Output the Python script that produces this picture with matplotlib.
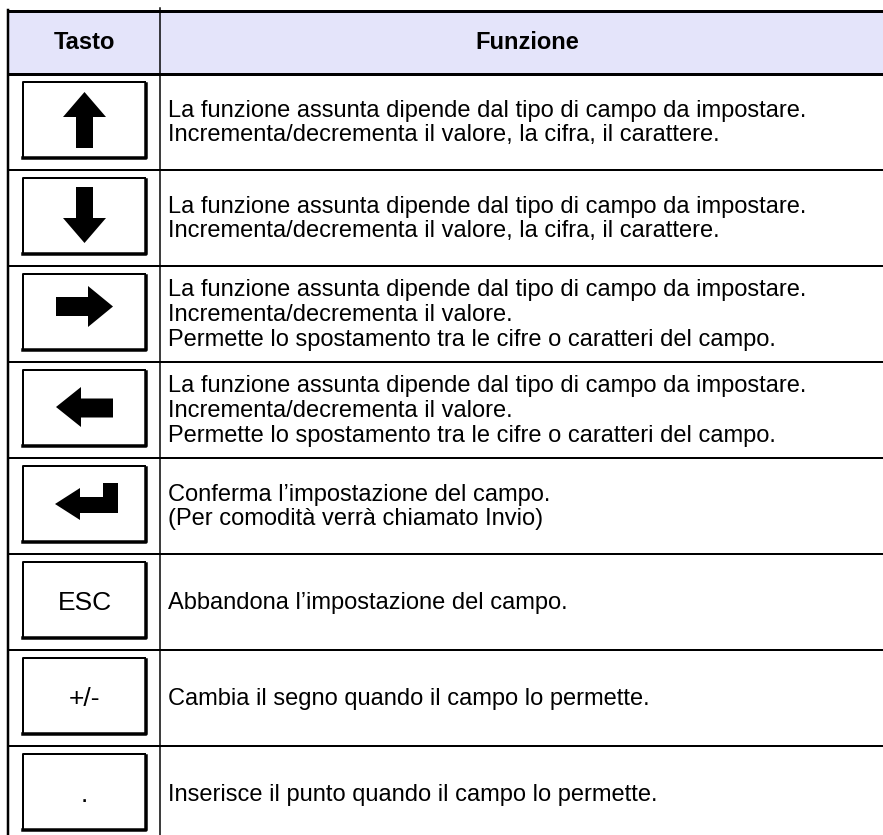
import matplotlib.pyplot as plt
from matplotlib.patches import Rectangle, Polygon

plt.rcParams['font.family'] = ['Liberation Sans', 'DejaVu Sans']

# intestazione e contenuto della tabella
headers = ['Tasto', 'Funzione']
keys = ['up', 'down', 'right', 'left', 'enter', 'ESC', '+/-', '.']
descriptions = [
    ['La funzione assunta dipende dal tipo di campo da impostare.',
     'Incrementa/decrementa il valore, la cifra, il carattere.'],
    ['La funzione assunta dipende dal tipo di campo da impostare.',
     'Incrementa/decrementa il valore, la cifra, il carattere.'],
    ['La funzione assunta dipende dal tipo di campo da impostare.',
     'Incrementa/decrementa il valore.',
     'Permette lo spostamento tra le cifre o caratteri del campo.'],
    ['La funzione assunta dipende dal tipo di campo da impostare.',
     'Incrementa/decrementa il valore.',
     'Permette lo spostamento tra le cifre o caratteri del campo.'],
    ['Conferma l\u2019impostazione del campo.',
     '(Per comodit\u00e0 verr\u00e0 chiamato Invio)'],
    ['Abbandona l\u2019impostazione del campo.'],
    ['Cambia il segno quando il campo lo permette.'],
    ['Inserisce il punto quando il campo lo permette.'],
]

# forme delle frecce (offset dal centro del tasto, in pixel)
arrow_shapes = {
    'up': [(-8.5, 28), (-8.5, -3), (-21.5, -3), (0, -28), (21.5, -3), (8.5, -3), (8.5, 28)],
    'down': [(-8.5, -29), (-8.5, 2), (-21.5, 2), (0, 27), (21.5, 2), (8.5, 2), (8.5, -29)],
    'right': [(-28.5, -15), (3.5, -15), (3.5, -26), (28.5, -5.5), (3.5, 15), (3.5, 4), (-28.5, 4)],
    'left': [(28.5, -9.5), (-3.5, -9.5), (-3.5, -21), (-28.5, -1), (-3.5, 19), (-3.5, 9.5), (28.5, 9.5)],
    'enter': [(-29.5, 0), (-4.5, -16), (-4.5, -7), (18.5, -7), (18.5, -21), (33.5, -21),
              (33.5, 9), (-4.5, 9), (-4.5, 16)],
}

W, H = 883, 835
fig = plt.figure(figsize=(W / 100, H / 100), dpi=100)
ax = fig.add_axes([0, 0, 1, 1])
ax.set_xlim(0, W)
ax.set_ylim(H, 0)
ax.axis('off')

x_left, x_div, x_right = 8, 160, W + 20
y_top, y_head = 11, 74
row_h = 96
px = 0.72  # 1 pixel in punti

# intestazione
ax.add_patch(Rectangle((x_left, y_top), x_right - x_left, y_head - y_top,
                       facecolor='#e4e4fa', edgecolor='none', zorder=0))
ax.text((x_left + x_div) / 2, 49, headers[0], ha='center', va='baseline',
        fontsize=17, fontweight='bold')
ax.text(527, 49, headers[1], ha='center', va='baseline',
        fontsize=17, fontweight='bold')

n = len(keys)
y_bottom = y_head + n * row_h
ax.plot([x_left, x_right], [y_top, y_top], color='black', lw=3 * px)
ax.plot([x_left, x_right], [y_head, y_head], color='black', lw=3 * px)
ax.plot([x_left, x_left], [y_top - 1, y_bottom], color='black', lw=2.5 * px)
ax.plot([x_div, x_div], [y_top - 3, y_bottom], color='black', lw=1.5 * px)

line_pitch = 25
for i, (key, lines) in enumerate(zip(keys, descriptions)):
    r0 = y_head + i * row_h
    r1 = r0 + row_h
    if i < n - 1:
        ax.plot([x_left, x_right], [r1, r1], color='black', lw=2 * px)
    # tasto
    bx0, bx1 = 23, 146
    by0, by1 = r0 + 8, r0 + 84
    ax.plot([bx0, bx0, bx1], [by1, by0, by0], color='black', lw=2 * px, solid_capstyle='butt')
    ax.plot([bx1, bx1, bx0], [by0 + 2, by1, by1], color='black', lw=3.5 * px, solid_capstyle='projecting')
    cx, cy = (bx0 + bx1) / 2, (by0 + by1) / 2
    if key in arrow_shapes:
        pts = [(cx + dx, cy + dy) for dx, dy in arrow_shapes[key]]
        ax.add_patch(Polygon(pts, closed=True, facecolor='black', edgecolor='none'))
    else:
        ax.text(cx, cy + 10, key, ha='center', va='baseline', fontsize=19)
    # descrizione
    rc = (r0 + r1) / 2
    k = len(lines)
    for j, line in enumerate(lines):
        ly = rc + (j - (k - 1) / 2) * line_pitch + 7
        ax.text(168, ly, line, ha='left', va='baseline', fontsize=17)

fig.savefig('out.png', dpi=100, facecolor='white')
